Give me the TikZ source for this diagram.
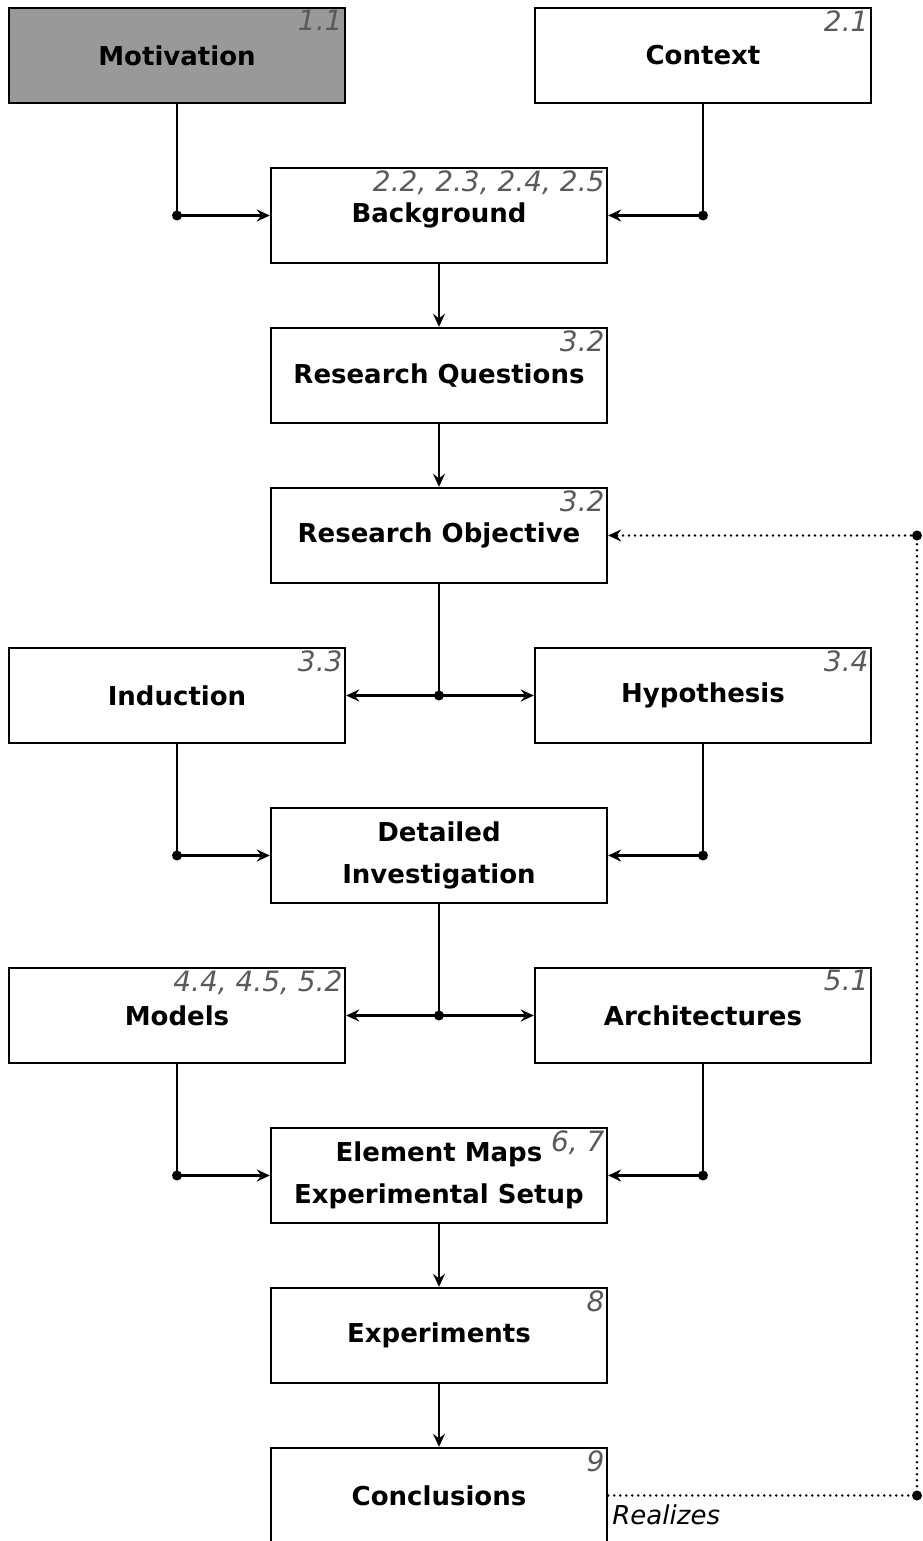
\documentclass[tikz,border=0pt]{standalone}
\usepackage{fontspec}
\setmainfont{DejaVu Sans}
\usetikzlibrary{arrows.meta}
\definecolor{numgray}{HTML}{5A5A5A}
\definecolor{boxgray}{HTML}{999999}
\tikzset{
  box/.style={draw, line width=2.4pt, minimum width=336pt, minimum height=95pt,
    align=center, inner sep=2pt, font=\fontsize{26}{42}\selectfont\bfseries},
  num/.style={anchor=north east, inner sep=3.5pt, text=numgray,
    font=\fontsize{28}{30}\selectfont\itshape},
  conn/.style={line width=2.4pt},
  arr/.style={line width=2.4pt, -{Stealth[length=13pt,width=12pt,inset=4.5pt]}},
  dotline/.style={line width=2.8pt, line cap=round, dash pattern=on 0pt off 6pt},
  junction/.style={fill=black},
}
\begin{document}
\begin{tikzpicture}[x=1pt,y=-1pt]
\useasboundingbox (0,0) rectangle (922,1541);
% boxes
\node[box, fill=boxgray] (mot) at (177,55.5) {Motivation};
\node[box] (ctx) at (703,55.5) {Context};
\node[box] (bg) at (439,215.5) {Background};
\node[box] (rq) at (439,375.5) {Research Questions};
\node[box] (ro) at (439,535.5) {Research Objective};
\node[box] (ind) at (177,695.5) {Induction};
\node[box] (hyp) at (703,695.5) {Hypothesis};
\node[box] (di) at (439,855.5) {Detailed\\Investigation};
\node[box] (mod) at (177,1015.5) {Models};
\node[box] (arch) at (703,1015.5) {Architectures};
\node[box] (em) at (439,1175.5) {Element Maps\\Experimental Setup};
\node[box] (exp) at (439,1335.5) {Experiments};
\node[box] (conc) at (439,1495.5) {Conclusions};
% section numbers
\node[num] (n1) at (mot.north east) {1.1};
\node[num] (n2) at (ctx.north east) {2.1};
\node[num] (n3) at (bg.north east) {2.2, 2.3, 2.4, 2.5};
\node[num] (n4) at (rq.north east) {3.2};
\node[num] (n5) at (ro.north east) {3.2};
\node[num] (n6) at (ind.north east) {3.3};
\node[num] (n7) at (hyp.north east) {3.4};
\node[num] (n8) at (mod.north east) {4.4, 4.5, 5.2};
\node[num] (n9) at (arch.north east) {5.1};
\node[num] (n10) at (em.north east) {6, 7};
\node[num] (n11) at (exp.north east) {8};
\node[num] (n12) at (conc.north east) {9};
% junctions
\coordinate (j1) at (mot.south |- bg.west);
\coordinate (j2) at (ctx.south |- bg.east);
\coordinate (j3) at (ro.south |- ind.east);
\coordinate (j4) at (ind.south |- di.west);
\coordinate (j5) at (hyp.south |- di.east);
\coordinate (j6) at (di.south |- mod.east);
\coordinate (j7) at (mod.south |- em.west);
\coordinate (j8) at (arch.south |- em.east);
\coordinate (r1) at (917,1495.5);
\coordinate (r2) at (917,535.5);
% connectors
\draw[conn] (mot.south) -- (j1);
\draw[arr] (j1) -- (bg.west);
\draw[conn] (ctx.south) -- (j2);
\draw[arr] (j2) -- (bg.east);
\draw[arr] (bg.south) -- (rq.north);
\draw[arr] (rq.south) -- (ro.north);
\draw[conn] (ro.south) -- (j3);
\draw[arr] (j3) -- (ind.east);
\draw[arr] (j3) -- (hyp.west);
\draw[conn] (ind.south) -- (j4);
\draw[arr] (j4) -- (di.west);
\draw[conn] (hyp.south) -- (j5);
\draw[arr] (j5) -- (di.east);
\draw[conn] (di.south) -- (j6);
\draw[arr] (j6) -- (mod.east);
\draw[arr] (j6) -- (arch.west);
\draw[conn] (mod.south) -- (j7);
\draw[arr] (j7) -- (em.west);
\draw[conn] (arch.south) -- (j8);
\draw[arr] (j8) -- (em.east);
\draw[arr] (em.south) -- (exp.north);
\draw[arr] (exp.south) -- (conc.north);
% dotted feedback
\draw[dotline] (conc.east) -- (r1) -- (r2);
\draw[dotline, -{Stealth[length=13pt,width=12pt,inset=4.5pt]}] (r2) -- (ro.east);
\node[anchor=north west, inner sep=2pt, font=\fontsize{26}{30}\selectfont\itshape] (lbl) at ([xshift=2pt,yshift=-7pt]conc.east) {Realizes};
% dots
\foreach \j in {j1,j2,j3,j4,j5,j6,j7,j8,r1,r2}
  \fill[junction] (\j) circle (5pt);
\end{tikzpicture}
\end{document}
